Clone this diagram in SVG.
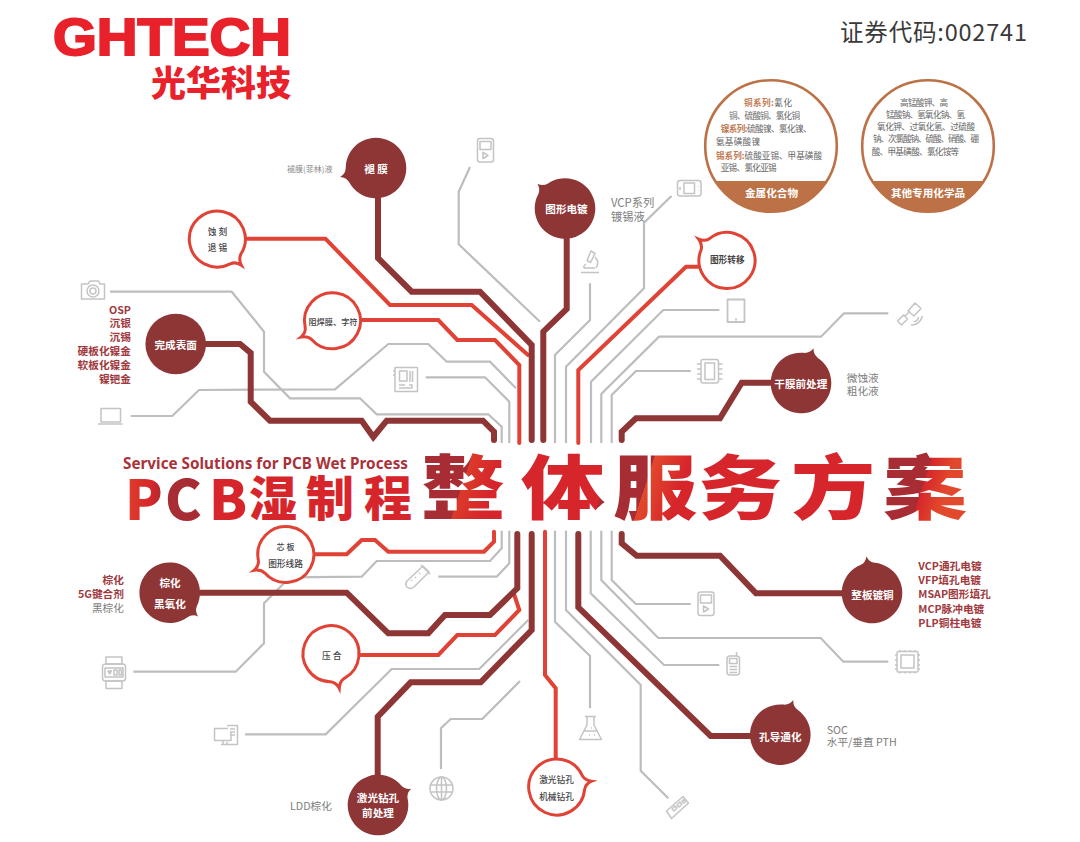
<svg xmlns="http://www.w3.org/2000/svg" width="1080" height="842" viewBox="0 0 1080 842">
<style>
text{font-family:"Noto Sans CJK SC","Noto Sans",sans-serif;dominant-baseline:central}
.conn{fill:none;stroke-linejoin:miter}
.d{stroke:#8e3535;stroke-width:6;stroke-linecap:round}
.r{stroke:#e04335;stroke-width:4;stroke-linecap:round}
.g{stroke:#bdbdbd;stroke-width:2.2}
.bd{fill:#8e3535}
.bo{fill:#fff;stroke:#e04335;stroke-width:3}
.w{fill:#fff;font-weight:700;font-size:10.6px;text-anchor:middle}
.k{fill:#444;font-weight:500;font-size:8.7px;text-anchor:middle}
.rl{fill:#a03a3e;font-weight:700;font-size:10.7px}
.gl{fill:#7d7d7d;font-size:10.7px}
.end{text-anchor:end}
.i{fill:none;stroke:#c4c4c4;stroke-width:1.5;stroke-linejoin:round}
.ring{fill:#fff;stroke:#bd7146;stroke-width:2.6}
.band{fill:#bd7146}
.t{font-size:8.6px;fill:#666}
.o{fill:#c27a55;font-weight:700}
.bl{fill:#fff;font-weight:700;font-size:10.6px}
</style>
<defs>
<path id="bubD" d="M29.4 7.33A30.3 30.3 0 1 1 29.4-7.33Q31-2 37 0Q31 1.500 29.4 7.33Z"/>
<path id="bubO" d="M27.05 7.25A28 28 0 1 1 27.05-7.25Q29-2 35.500 0Q29 1.500 27.05 7.25Z"/>
<linearGradient id="gBig" gradientUnits="userSpaceOnUse" x1="420" y1="-75" x2="970" y2="75">
<stop offset="0" stop-color="#a82c33"/><stop offset=".09" stop-color="#a82c33"/><stop offset=".09" stop-color="#dc3a2b"/><stop offset=".14" stop-color="#d6262b"/><stop offset=".33" stop-color="#d6262b"/><stop offset=".33" stop-color="#a82c33"/><stop offset=".4" stop-color="#a82c33"/><stop offset=".4" stop-color="#e2482b"/><stop offset=".46" stop-color="#d6262b"/><stop offset=".78" stop-color="#d6262b"/><stop offset=".78" stop-color="#a82c33"/><stop offset=".87" stop-color="#a82c33"/><stop offset=".87" stop-color="#d6262b"/><stop offset=".91" stop-color="#e2482b"/><stop offset="1" stop-color="#e2482b"/>
</linearGradient>
<linearGradient id="gPcb" gradientUnits="userSpaceOnUse" x1="125" y1="0" x2="415" y2="0">
<stop offset="0" stop-color="#e0402b"/><stop offset=".09" stop-color="#d6262b"/><stop offset=".13" stop-color="#a82c33"/><stop offset=".27" stop-color="#a82c33"/><stop offset=".27" stop-color="#d6262b"/><stop offset="1" stop-color="#d6262b"/>
</linearGradient>
</defs>

<g id="logo">
<text x="53" y="55" font-weight="700" font-size="51" fill="#e8212b" textLength="238" lengthAdjust="spacingAndGlyphs" stroke="#e8212b" stroke-width="2" style="font-family:'Liberation Sans',sans-serif;dominant-baseline:auto">GHTECH</text>
<text x="151" y="80.500" font-size="35" font-weight="900" fill="#e8212b">光华科技</text>
</g>
<text id="code" x="840" y="30.500" font-size="23.500" fill="#3a3a3a" textLength="187">证券代码:002741</text>

<g id="connectors" class="conn">
<path class="g" d="M110 291.700H231.700L264 331.700V371.700L290 398.300H360L376.700 414.300H488.300L501.700 426.700V443"/>
<path class="g" d="M130.700 416H172.300L199 390L335 389.300L388.300 344H428.300L446.700 361.700H490L516 388.300"/>
<path class="g" d="M425.700 377.300H485L509.300 401.700V443"/>
<path class="g" d="M470 167L458.700 191.700V244.300L540 321.700"/>
<path class="g" d="M590 283.300V320L555 355V443"/>
<path class="g" d="M671.500 196L644 222.700V288.300L566 366.700V443"/>
<path class="g" d="M719.300 310H663.300L591 381.700V443"/>
<path class="g" d="M888.300 313.300H844L821 336.700H659L601.300 394V443"/>
<path class="g" d="M690.700 371H636L611.700 395V443"/>
<path class="g" d="M133.300 671.700H235.700L264 643.300V603.300L290 577.300L361.700 576.700L376.700 561H490L501.700 548.300V530.700"/>
<path class="g" d="M438.300 576.700H496.700L509.300 563.300V530.700"/>
<path class="g" d="M245 734.300H325.700L391.700 669H479.300L528.300 620"/>
<path class="g" d="M441 769V728.300L450.700 719H482.300L520 681"/>
<path class="g" d="M555 530.700V621.700L590 656V708.300"/>
<path class="g" d="M566 530.700V610L640.700 685V770.700L668.300 798.300"/>
<path class="g" d="M590.700 530.700V593.300L664 665H719.300"/>
<path class="g" d="M601.300 530.700V580L658.300 638H820.700L843.300 661.700H888.300"/>
<path class="g" d="M611.700 530.700V580L635.700 604H690.700"/>
<path class="r" d="M247 238.700H325.400L390 305H471.700L528 355"/>
<path class="r" d="M361.700 320H438.300L457.300 340H495L519.300 365V443"/>
<path class="r" d="M698 266.700H686L578.300 370V443"/>
<path class="r" d="M315 554.300H346.700L361.700 540H375L388.300 551.700H484L494 541.700V531.700"/>
<path class="r" d="M361 655H438.300L457.300 635H495L519.300 610L514 594"/>
<path class="r" d="M545 531.700V675L555.700 688.300V758"/>
<path class="d" d="M206 344H240L250.700 353V401.700L270 420.700H361.700L373.300 437L386.700 420.700H483L494 431.700V440"/>
<path class="d" d="M378 198V258L411.700 291.700H480L531.700 345V440"/>
<path class="d" d="M566.700 238V309L543.300 331.700V440"/>
<path class="d" d="M771 382.700H741.700L720 418.300H636L621.700 431.700V440"/>
<path class="d" d="M200 592.700H346.700L388.300 633.300H428.300L445 615H490L517.300 588.300V534"/>
<path class="d" d="M377.700 775V716.700L410.700 682.300H480.700L531.700 630V534"/>
<path class="d" d="M578.300 534V607.300L710.700 736H751.700"/>
<path class="d" d="M621.700 534V543.300L636.700 555.700H720L756 593.300H843.300"/>
</g>

<g id="title">
<text x="123" y="462.500" font-weight="700" font-size="16" fill="#a8333a" textLength="285" lengthAdjust="spacingAndGlyphs" style="font-family:'Noto Sans',sans-serif">Service Solutions for PCB Wet Process</text>
<text y="516" font-size="48" font-weight="900" fill="url(#gPcb)" style="dominant-baseline:auto"><tspan x="125" font-size="55" font-weight="800" y="520">P</tspan><tspan x="165" font-size="55" font-weight="800" y="520">C</tspan><tspan x="209" font-size="55" font-weight="800" y="520">B</tspan><tspan x="249" y="516">湿</tspan><tspan x="306">制</tspan><tspan x="364">程</tspan></text>
<text transform="translate(0 514.400) scale(1 .84)" x="421 521 613 698 791 883" font-size="84" font-weight="900" fill="url(#gBig)" style="dominant-baseline:auto">整体服务方案</text>
</g>

<g id="n-tuimo"><use href="#bubD" class="bd" transform="translate(376 168) rotate(166)"/><text class="w" x="376" y="168">褪 膜</text></g>
<g id="n-tuxingdiandu"><use href="#bubD" class="bd" transform="translate(565 208.500) rotate(222)"/><text class="w" x="566.500" y="208.500">图形电镀</text></g>
<g id="n-shike"><use href="#bubO" class="bo" transform="translate(217.300 239) rotate(47.500)"/><text class="k" x="217.500" y="231.700">蚀 刻</text><text class="k" x="217.500" y="247">退 锡</text></g>
<g id="n-zuhan"><use href="#bubO" class="bo" transform="translate(332.500 320.800) rotate(152.600)"/><text class="k" x="333" y="320.700" style="font-size:8.2px">阻焊膜、字符</text></g>
<g id="n-wancheng"><circle class="bd" cx="175.700" cy="344" r="30.300"/><text class="w" x="175.700" y="344.500">完成表面</text></g>
<g id="n-zhuanyi"><use href="#bubO" class="bo" transform="translate(727 260.500) rotate(217)"/><text class="k" x="727.300" y="259.700" style="font-weight:700">图形转移</text></g>
<g id="n-ganmo"><use href="#bubD" class="bd" transform="translate(801 383) rotate(290)"/><text class="w" x="800.800" y="383.300">干膜前处理</text></g>
<g id="n-zhengban"><use href="#bubD" class="bd" transform="translate(872 593) rotate(261.600)"/><text class="w" x="872.500" y="594">整板镀铜</text></g>
<g id="n-kongdao"><use href="#bubD" class="bd" transform="translate(780.300 734.700) rotate(290.700)"/><text class="w" x="780.300" y="736">孔导通化</text></g>
<g id="n-jiguang"><use href="#bubO" class="bo" transform="translate(556.700 787) rotate(-9.500)"/><text class="k" x="556.500" y="779">激光钻孔</text><text class="k" x="556.500" y="796">机械钻孔</text></g>
<g id="n-jiguangqian"><use href="#bubD" class="bd" transform="translate(378 805) rotate(-26)"/><text class="w" x="378" y="797.700">激光钻孔</text><text class="w" x="378" y="812.300">前处理</text></g>
<g id="n-yahe"><use href="#bubO" class="bo" transform="translate(331 653.700) rotate(76.500)"/><text class="k" x="331.700" y="655.700">压 合</text></g>
<g id="n-zonghua"><use href="#bubD" class="bd" transform="translate(169.700 592.700) rotate(40)"/><text class="w" x="170" y="582.700">棕化</text><text class="w" x="170" y="603.300">黑氧化</text></g>
<g id="n-xinban"><use href="#bubO" class="bo" transform="translate(285.800 554.500) rotate(153.500)"/><text class="k" x="285.500" y="546.700" style="font-size:8px">芯 板</text><text class="k" x="285.500" y="563.300">图形线路</text></g>

<g id="labels">
<text x="287" y="168" font-size="8" fill="#8a8a8a">褪膜(菲林)液</text>
<text x="611" y="201.500" font-size="11.300" fill="#7d7d7d">VCP系列</text><text x="611" y="216" font-size="11.300" fill="#7d7d7d">镀锡液</text>
<text class="rl end" x="131" y="309.300">OSP</text><text class="rl end" x="131" y="322.700">沉银</text><text class="rl end" x="131" y="336.700">沉锡</text><text class="rl end" x="131" y="350.300">硬板化镍金</text><text class="rl end" x="131" y="364.300">软板化镍金</text><text class="rl end" x="131" y="378.300">镍钯金</text>
<text class="rl end" x="124" y="579.300">棕化</text><text class="rl end" x="124" y="593.300">5G键合剂</text><text class="gl end" x="124" y="607.300">黑棕化</text>
<text class="gl" x="846.700" y="377">微蚀液</text><text class="gl" x="846.700" y="390.700">粗化液</text>
<text class="rl" x="918.300" y="565.700">VCP通孔电镀</text><text class="rl" x="918.300" y="579.700">VFP填孔电镀</text><text class="rl" x="918.300" y="593.700">MSAP图形填孔</text><text class="rl" x="918.300" y="608">MCP脉冲电镀</text><text class="rl" x="918.300" y="622">PLP铜柱电镀</text>
<text class="gl" x="826.700" y="729.300">SOC</text><text class="gl" x="826.700" y="741.700">水平/垂直 PTH</text>
<text class="gl" x="290" y="805">LDD棕化</text>
</g>

<g id="n-metal">
<circle class="ring" cx="771" cy="146" r="65.800"/><path class="band" d="M715.300 181A65.800 65.800 0 0 0 826.700 181Z"/>
<text class="t" x="744" y="102" textLength="48"><tspan class="o">铜系列:</tspan>氰化</text>
<text class="t" x="729" y="114.500" textLength="71">铜、硫酸铜、氯化铜</text>
<text class="t" x="720.700" y="128" textLength="91"><tspan class="o">镍系列:</tspan>硫酸镍、氯化镍、</text>
<text class="t" x="716" y="141" textLength="44">氨基磺酸镍</text>
<text class="t" x="716" y="155" textLength="106"><tspan class="o">锡系列:</tspan>硫酸亚锡、甲基磺酸</text>
<text class="t" x="720.700" y="167.300" textLength="56">亚锡、氯化亚锡</text>
<text class="bl" x="771.500" y="192.700" text-anchor="middle">金属化合物</text>
</g>
<g id="n-other">
<circle class="ring" cx="928" cy="146" r="65.800"/><path class="band" d="M872.300 181A65.800 65.800 0 0 0 983.700 181Z"/>
<text class="t" x="900" y="101.700" textLength="48">高锰酸钾、高</text>
<text class="t" x="886" y="114" textLength="79">锰酸钠、氢氧化钠、氢</text>
<text class="t" x="877" y="126" textLength="98">氧化钾、过氧化氢、过硫酸</text>
<text class="t" x="873" y="138.300" textLength="106">钠、次氯酸钠、硫酸、硝酸、硼</text>
<text class="t" x="871.700" y="151" textLength="87.500">酸、甲基磺酸、氯化铵等</text>
<text class="bl" x="928" y="192.700" text-anchor="middle">其他专用化学品</text>
</g>

<g id="icon-player1" class="i"><rect x="477.500" y="138.500" width="16" height="23.500" rx="2.500"/><rect x="480" y="141.500" width="11" height="8"/><path d="M483 152.500v6l5-3z"/></g>
<g id="icon-console" class="i"><rect x="677.500" y="180.500" width="23.500" height="15.500" rx="2.500"/><rect x="684" y="183" width="10.500" height="10.500"/><path d="M680 187v3M698.500 186.500v.5M698.500 190v.5"/></g>
<g id="icon-microscope" class="i"><path d="M581 272.500H599M584 268H595M591 251l4 2.500-4.500 9-3.500-2zM595 257q5 5 1 11M586 264q-3 2-2 4"/></g>
<g id="icon-tablet" class="i"><rect x="727.500" y="299.500" width="17" height="22.500" stroke-width="1.800"/><circle cx="736" cy="319.500" r=".4"/></g>
<g id="icon-satellite" class="i"><path d="M897.500 321l6-6 4 4-6 6zM908 311l7-8 6 5.500-7 7.500zM905 316l5-5"/><path d="M914 322q4-1 4.500-5M911 325q9 0 11.500-9"/></g>
<g id="icon-chip1" class="i"><rect x="701" y="359.500" width="17.500" height="23.500" rx="2"/><rect x="705" y="363" width="9.500" height="16.500"/><path d="M697 364h4M697 369h4M697 374h4M697 379h4M718.500 364h4M718.500 369h4M718.500 374h4M718.500 379h4"/></g>
<g id="icon-camera" class="i"><path d="M81.500 284H88L90 281H98.500L100 284H104.500V299H81.500Z"/><circle cx="93" cy="291" r="6"/><circle cx="93" cy="291" r="3"/></g>
<g id="icon-laptop" class="i"><rect x="101" y="408.500" width="19.500" height="13.500"/><path d="M98 424H122.500"/></g>
<g id="icon-board" class="i"><path d="M395 367.500H417.500V391.500H395Z"/><path d="M393 371H395M393 375H395M399.500 371H407V381H399.500ZM410 371V382M412.500 371V382M399 385H405M399 388H409M409 385h3v3h-3"/></g>
<g id="icon-tube" class="i"><path d="M423 566L429 572L414 587Q410 590 407 587Q404 584 408 580Z"/><path d="M421 565L430 574"/><path d="M411 580l1 1M415 577l1 1M419 573l1 1"/></g>
<g id="icon-watch" class="i"><rect x="102.500" y="664" width="23" height="17" rx="3"/><rect x="105" y="668" width="18" height="9"/><path d="M106 657H122V664H106ZM106 681H122V688.500H106ZM108 671h3.500l-1.700 3zM114 670v5h3v-5zM119 670v5h2.500v-5z"/></g>
<g id="icon-monitor" class="i"><path d="M228 728.500H214.500V740.500H231V732"/><path d="M227 725.500H237.500V744.500H227V742M221 744.500H229M223 741v3M230 729h5M230 732h5M230 735h5"/></g>
<g id="icon-globe" class="i"><circle cx="441.500" cy="788.500" r="11.500"/><ellipse cx="441.500" cy="788.500" rx="5" ry="11.500"/><path d="M441.500 777V800M430.500 785H452.500M430.500 792H452.500"/></g>
<g id="icon-player2" class="i"><rect x="698" y="592" width="16" height="23.500" rx="2.500"/><rect x="700.500" y="595" width="11" height="8"/><path d="M703.500 606v6l5-3z"/></g>
<g id="icon-phone" class="i"><rect x="727" y="656" width="12.500" height="19" rx="3"/><rect x="729.500" y="658.500" width="7.500" height="5"/><path d="M736.500 656V652M729.500 666.500h7.500M729.500 669.500h7.500M729.500 672.500h7.500"/></g>
<g id="icon-chip2" class="i"><rect x="897" y="651.500" width="21" height="20.500" rx="1.500"/><rect x="901" y="655" width="13" height="13"/><path d="M895 655h2M895 660h2M895 665h2M895 669h2M918 655h2M918 660h2M918 665h2M918 669h2M900 650v1.500M905 650v1.500M910 650v1.500M915 650v1.500M900 672v1.500M905 672v1.500M910 672v1.500M915 672v1.500"/></g>
<g id="icon-flask" class="i"><path d="M585 716.500H596M587 716.500V725L579.500 739.500H601.500L594 725V716.500"/><path d="M584 731H597M589 735h1M594 735h1M591 728h1"/></g>
<g id="icon-ram" class="i"><path d="M666.500 811L683 796.500L688.500 803L671.500 818.500Z"/><path d="M672 809l3-3 2 2-3 3zM677 805l3-3 2 2-3 3zM682 801l1.500-1.500 2 2-1.500 1.500z"/></g>
</svg>
